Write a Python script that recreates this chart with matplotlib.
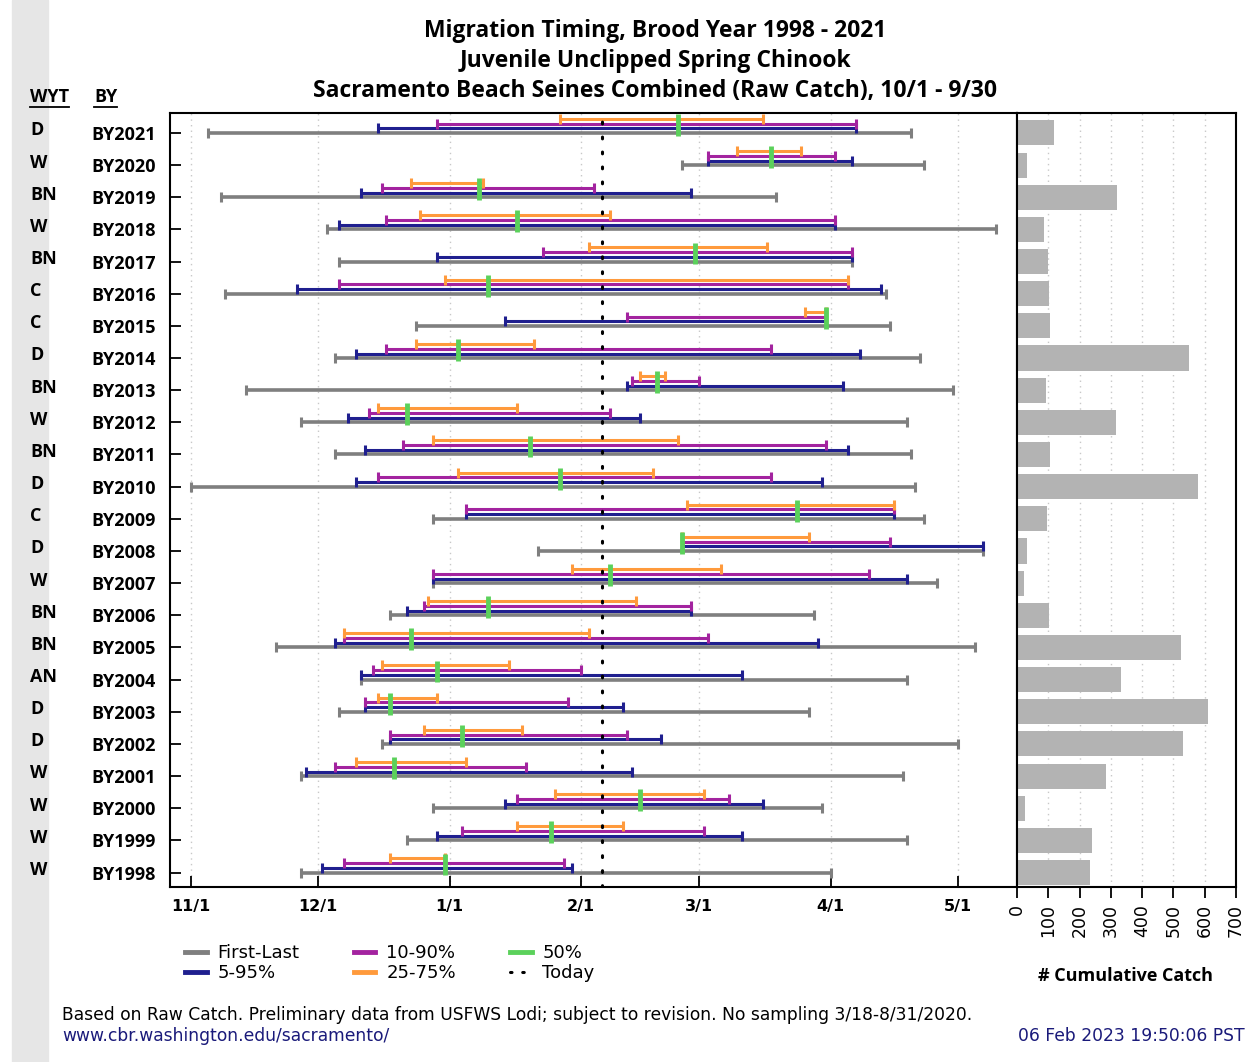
import matplotlib
matplotlib.use("Agg")
import matplotlib.pyplot as plt
from matplotlib.lines import Line2D
from matplotlib.patches import Rectangle
from matplotlib.transforms import blended_transform_factory
import numpy as np

# ---------------- data (days after Oct 1) ----------------
brood_years = ["BY2021", "BY2020", "BY2019", "BY2018", "BY2017", "BY2016", "BY2015", "BY2014",
               "BY2013", "BY2012", "BY2011", "BY2010", "BY2009", "BY2008", "BY2007", "BY2006",
               "BY2005", "BY2004", "BY2003", "BY2002", "BY2001", "BY2000", "BY1999", "BY1998"]
wyt = ["D", "W", "BN", "W", "BN", "C", "C", "D", "BN", "W", "BN", "D",
       "C", "D", "W", "BN", "BN", "AN", "D", "D", "W", "W", "W", "W"]

first = [35, 147, 38, 63, 66, 39, 84, 65, 44, 57, 65, 31, 88, 113, 88, 78, 51, 71, 66, 76, 57, 88, 82, 57]
last = [201, 204, 169, 221, 187, 195, 196, 203, 211, 200, 201, 202, 204, 218, 207, 178, 216, 200, 177, 212, 199, 180, 200, 182]
p5 = [75, 153, 71, 66, 89, 56, 105, 70, 134, 68, 72, 70, 96, 147, 88, 82, 65, 71, 72, 78, 58, 105, 89, 62]
p95 = [188, 187, 149, 183, 187, 194, 181, 189, 185, 137, 186, 180, 197, 218, 200, 149, 179, 161, 133, 142, 135, 166, 161, 121]
p10 = [89, 153, 76, 77, 114, 66, 134, 77, 135, 73, 81, 75, 96, 147, 88, 86, 67, 74, 72, 78, 65, 108, 95, 67]
p90 = [188, 183, 126, 183, 187, 186, 181, 168, 151, 130, 181, 168, 197, 196, 191, 149, 153, 123, 120, 134, 110, 158, 152, 119]
p25 = [118, 160, 83, 85, 125, 91, 176, 84, 137, 75, 88, 94, 148, 147, 121, 87, 67, 76, 75, 86, 70, 117, 108, 78]
p75 = [166, 175, 100, 130, 167, 186, 181, 112, 143, 108, 146, 140, 197, 177, 156, 136, 125, 106, 89, 109, 96, 152, 133, 91]
p50 = [146, 168, 99, 108, 150, 101, 181, 94, 141, 82, 111, 118, 174, 147, 130, 101, 83, 89, 78, 95, 79, 137, 116, 91]
cum_catch = [118, 32, 319, 85, 100, 103, 106, 549, 92, 318, 104, 580,
             97, 33, 22, 103, 525, 334, 612, 530, 286, 25, 241, 234]
today = 128  # 2/6

month_ticks = ["11/1", "12/1", "1/1", "2/1", "3/1", "4/1", "5/1"]
catch_ticks = [0, 100, 200, 300, 400, 500, 600, 700]

# ---------------- helpers ----------------
_cum = {10: 0, 11: 31, 12: 61, 1: 92, 2: 123, 3: 151, 4: 182, 5: 212, 6: 243, 7: 273, 8: 304, 9: 335}


def season_day(s):
    m, d = map(int, s.split("/"))
    return _cum[m] + d - 1


W, H = 1248, 1062
fig = plt.figure(figsize=(W / 100, H / 100), dpi=100)
fig.patches.append(Rectangle((12 / W, 0), 36 / W, 1, transform=fig.transFigure,
                             color="#e6e6e6", zorder=-10))

left, right, bottom, top = 170 / W, 1017 / W, 1 - 887 / H, 1 - 113 / H
bright = 1236 / W
ax = fig.add_axes([left, bottom, right - left, top - bottom])
axb = fig.add_axes([right, bottom, bright - right, top - bottom], sharey=ax)
ax.patch.set_alpha(0)

n = len(brood_years)
y = np.arange(n)[::-1].astype(float)

GRAY, NAVY, PURP, ORNG, GRN = "#7f7f7f", "#1f1f8f", "#a3239f", "#ff9a3c", "#5bd15b"

series = [
    (first, last, 0.0, GRAY, 2.6),
    (p5, p95, 0.14, NAVY, 2.2),
    (p10, p90, 0.29, PURP, 2.2),
    (p25, p75, 0.44, ORNG, 2.2),
]
for z, (a, b, off, col, lw) in enumerate(series):
    a = np.array(a, float)
    b = np.array(b, float)
    yy = y + off
    ax.hlines(yy, a, b, color=col, lw=lw, zorder=3 + z)
    ax.plot(np.r_[a, b], np.r_[yy, yy], ls="none", marker="|", ms=7, mew=2.2,
            color=col, zorder=3 + z)

ax.vlines(np.array(p50, float), y - 0.09, y + 0.59, color=GRN, lw=3.5, zorder=8)
ax.axvline(today, color="k", ls=(0, (0.6, 4.3)), lw=2.2, dash_capstyle="round", zorder=9)

xt = [season_day(s) for s in month_ticks]
ax.set_xlim(26, 226)
ax.set_ylim(-0.45, n - 1 + 0.62)
ax.set_xticks(xt)
ax.set_xticklabels(month_ticks, fontweight="bold", fontsize=11.5)
ax.set_yticks(y)
ax.set_yticklabels(brood_years, fontweight="bold", fontsize=13, family="Open Sans")
ax.tick_params(axis="both", direction="in", length=8, width=1.3)
ax.tick_params(axis="x", pad=9)
ax.tick_params(axis="y", pad=10)
for g in xt:
    ax.axvline(g, color="#c8c8c8", ls=(0, (1, 3)), lw=1, zorder=1)
for sp in ax.spines.values():
    sp.set_linewidth(1.5)

# WYT labels
tr = blended_transform_factory(fig.transFigure, ax.transData)
for yi, w in zip(y, wyt):
    ax.text(30 / W, yi + 0.08, w, transform=tr, ha="left", va="center",
            fontweight="bold", fontsize=13, family="Open Sans", clip_on=False)

# bar chart
axb.barh(y, cum_catch, height=0.78, color="#b3b3b3", zorder=2)
axb.set_xlim(0, 700)
axb.set_xticks(catch_ticks)
axb.set_xticklabels([str(c) for c in catch_ticks], rotation=90, fontsize=12.5)
axb.tick_params(axis="x", direction="out", length=8, width=1.3, pad=4)
axb.tick_params(axis="y", left=False, labelleft=False)
for g in catch_ticks[1:-1]:
    axb.axvline(g, color="#c8c8c8", ls=(0, (1, 3)), lw=1, zorder=1)
for sp in axb.spines.values():
    sp.set_linewidth(1.5)
fig.text(1126 / W, 1 - 976 / H, "# Cumulative Catch", ha="center", va="center",
         fontweight="bold", fontsize=13, family="Open Sans")

# titles
for ty, t in zip([31, 61, 91], ["Migration Timing, Brood Year 1998 - 2021",
                                "Juvenile Unclipped Spring Chinook",
                                "Sacramento Beach Seines Combined (Raw Catch), 10/1 - 9/30"]):
    fig.text(655 / W, 1 - ty / H, t, ha="center", va="center", fontweight="bold",
             fontsize=16.5, family="Open Sans")

# column headers
for hx, hw, t in [(30, 39, "WYT"), (94, 23, "BY")]:
    fig.text(hx / W, 1 - 97 / H, t, ha="left", va="center", fontweight="bold",
             fontsize=13, family="Open Sans")
    fig.add_artist(Line2D([hx / W, (hx + hw) / W], [1 - 107 / H, 1 - 107 / H],
                          color="k", lw=1.3, transform=fig.transFigure))

# legend
handles = [
    Line2D([], [], color=GRAY, lw=3.5),
    Line2D([], [], color=NAVY, lw=3.5),
    Line2D([], [], color=PURP, lw=3.5),
    Line2D([], [], color=ORNG, lw=3.5),
    Line2D([], [], color=GRN, lw=3.5),
    Line2D([], [], color="k", ls=(0, (0.5, 3.5)), lw=2.2, dash_capstyle="round"),
]
labels = ["First-Last", "5-95%", "10-90%", "25-75%", "50%", "Today"]
fig.legend(handles, labels, loc="upper left", bbox_to_anchor=(176 / W, 1 - 935 / H),
           ncol=3, frameon=False, fontsize=13, handlelength=1.2, handletextpad=0.6,
           columnspacing=3.0, labelspacing=0.1, borderpad=0)

# footer
fig.text(62 / W, 1 - 1015 / H,
         "Based on Raw Catch. Preliminary data from USFWS Lodi; subject to revision. "
         "No sampling 3/18-8/31/2020.", ha="left", va="center", fontsize=12.3)
fig.text(62 / W, 1 - 1036 / H, "www.cbr.washington.edu/sacramento/", ha="left",
         va="center", fontsize=12.3, color="#1a1a7a")
fig.text(1245 / W, 1 - 1036 / H, "06 Feb 2023 19:50:06 PST", ha="right", va="center",
         fontsize=12.3, color="#1a1a7a")

fig.savefig("out.png", dpi=100)
